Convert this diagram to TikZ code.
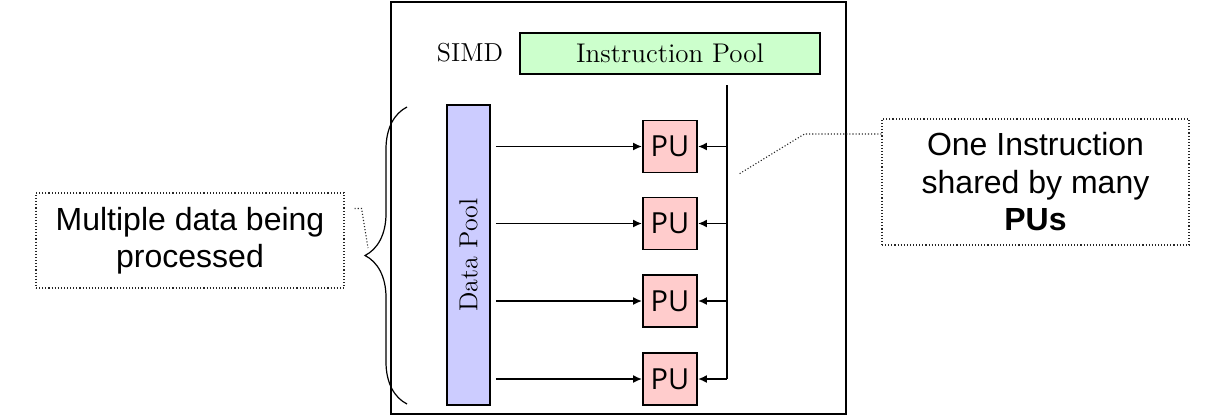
\documentclass[tikz,border=0pt]{standalone}
\usepackage{fontspec}
\newfontfamily\notefont{Liberation Sans}
\newfontfamily\pufont{Open Sans}
\usetikzlibrary{arrows.meta,decorations.pathreplacing}

\tikzset{
  pu/.style={draw, line width=0.9pt, fill=red!20, minimum width=27pt, minimum height=26pt, inner sep=0pt, font=\pufont\fontsize{14.5}{16}\selectfont},
  pool/.style={draw, line width=0.9pt, inner sep=0pt},
  note/.style={draw=black!85, densely dotted, line width=0.55pt, align=center, inner sep=0pt, font=\notefont\fontsize{16}{18.75}\selectfont},
  leader/.style={draw=black!85, densely dotted, line width=0.55pt},
  feed/.style={-{Latex[length=4.5pt,width=4pt]}, line width=0.9pt},
}

\begin{document}
\begin{tikzpicture}[x=0.5pt, y=-0.5pt]
	\useasboundingbox (0,0) rectangle (1218,418);
	\node[draw, line width=0.6pt, minimum width=227.5pt, minimum height=206pt, inner sep=0pt] (frame) at (618.5,208) {};
	\node[font=\fontsize{13}{15}\selectfont] (simd) at (470,53) {SIMD};
	\node[pool, fill=green!20, minimum width=150pt, minimum height=20.5pt, font=\fontsize{13.5}{15}\selectfont] (instr) at (670,53.5) {Instruction Pool};
	\node[pool, fill=blue!20, rotate=90, minimum width=150pt, minimum height=21.5pt, font=\fontsize{13}{14}\selectfont] (data) at (468.5,255) {Data Pool};
	\foreach \i/\y in {1/146.5,2/223.5,3/301,4/379}
		\node[pu] (pu\i) at (670,\y) {PU};

	\coordinate (dright) at ([xshift=2.5pt]data.south);
	\coordinate (bustop) at (727,85);
	\draw[line width=0.9pt] (bustop) -- (bustop |- pu4.east);
	\foreach \i in {1,...,4} {
		\draw[feed] (dright |- pu\i.west) -- (pu\i.west);
		\draw[feed] (bustop |- pu\i.east) -- (pu\i.east);
	}

	\draw[decorate, decoration={brace, amplitude=21pt}, line width=0.6pt] (407,404) -- (407,107);

	\node[note, minimum width=154pt, minimum height=47.5pt] (multi) at (190,240.5) {Multiple data being\\processed};
	\node[note, minimum width=153.5pt, minimum height=63pt] (one) at (1035.5,182) {One Instruction\\shared by many\\\textbf{PUs}};

	\coordinate (tipL) at (368,248);
	\coordinate (tipR) at (739,174);
	\draw[leader] ([xshift=5pt,yshift=16pt]multi.east) -- ++(3.5pt,0) -- (tipL);
	\draw[leader] ([yshift=24pt]one.west) -- ++(-38.5pt,0) -- (tipR);
\end{tikzpicture}
\end{document}
